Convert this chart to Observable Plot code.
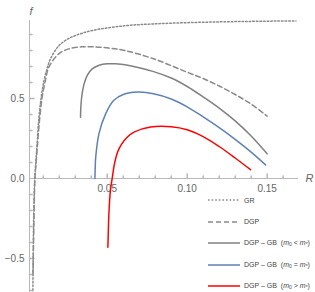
<!DOCTYPE html>
<html>
<head>
<meta charset="utf-8">
<script src="https://cdn.jsdelivr.net/npm/d3@7"></script>
<script src="https://cdn.jsdelivr.net/npm/@observablehq/plot@0.6"></script>
<style>
  html, body { margin: 0; padding: 0; background: #fff; }
  #wrap { position: relative; width: 315px; height: 292px; font-family: "Liberation Sans", Arial, sans-serif; }
  #legend { position: absolute; left: 208px; top: 190px; }
  .item { position: absolute; left: 0; height: 10px; display: flex; align-items: center; white-space: nowrap; font-size: 7px; color: #444; }
  .item svg { margin-right: 4px; }
  .item sub { font-size: 5px; vertical-align: -1px; }
</style>
</head>
<body>
<div id="wrap"></div>
<script>
// ---- data ----
const grR  = [0.0035, 0.0037, 0.0040, 0.0047, 0.0055, 0.0063, 0.0073, 0.0085, 0.0104, 0.0125, 0.0146, 0.0198, 0.0250, 0.0302, 0.0406, 0.0614, 0.0790, 0.1000, 0.1210, 0.1400, 0.1560, 0.1680];
const grF  = [-0.72, -0.50, -0.25, 0.00, 0.12, 0.24, 0.38, 0.49, 0.61, 0.69, 0.75, 0.83, 0.87, 0.894, 0.925, 0.955, 0.966, 0.974, 0.979, 0.982, 0.984, 0.985];

const dgpR = [0.0036, 0.0041, 0.0048, 0.0057, 0.0067, 0.0080, 0.0095, 0.0115, 0.0135, 0.0198, 0.0260, 0.0340, 0.0410, 0.0510, 0.0610, 0.0790, 0.1000, 0.1100, 0.1200, 0.1300, 0.1400, 0.1500];
const dgpF = [-0.60, -0.30, 0.00, 0.12, 0.25, 0.40, 0.52, 0.62, 0.696, 0.78, 0.81, 0.823, 0.823, 0.815, 0.80, 0.748, 0.664, 0.625, 0.578, 0.525, 0.465, 0.39];

const lessR = [0.0333, 0.0336, 0.0343, 0.0355, 0.0375, 0.0406, 0.0450, 0.0500, 0.0550, 0.0620, 0.0790, 0.0900, 0.1000, 0.1100, 0.1200, 0.1300, 0.1400, 0.1500];
const lessF = [0.383, 0.46, 0.53, 0.59, 0.645, 0.685, 0.708, 0.717, 0.717, 0.71, 0.668, 0.628, 0.575, 0.51, 0.44, 0.36, 0.265, 0.154];

const eqR = [0.0423, 0.0425, 0.0428, 0.0448, 0.0490, 0.0540, 0.0600, 0.0690, 0.0790, 0.0900, 0.1000, 0.1100, 0.1200, 0.1300, 0.1400, 0.1490];
const eqF = [0.00, 0.07, 0.133, 0.279, 0.404, 0.4875, 0.525, 0.54, 0.53, 0.497, 0.448, 0.385, 0.318, 0.245, 0.165, 0.085];

const moreR = [0.0504, 0.0507, 0.0510, 0.0520, 0.0531, 0.0545, 0.0565, 0.0590, 0.0625, 0.0667, 0.0770, 0.0900, 0.1000, 0.1100, 0.1200, 0.1300, 0.1396];
const moreF = [-0.43, -0.33, -0.23, -0.075, 0.00, 0.09, 0.165, 0.215, 0.258, 0.29, 0.322, 0.324, 0.305, 0.262, 0.20, 0.128, 0.055];

const xDomain = [0.0014, 0.1696];
const yDomain = [-0.7125, 0.9875];
const xMinorTicks = [0.01, 0.02, 0.03, 0.04, 0.06, 0.07, 0.08, 0.09, 0.11, 0.12, 0.13, 0.14, 0.16];
const xMajorTicks = [0.05, 0.10, 0.15];
const xTickLabels = ["0.05", "0.10", "0.15"];
const yMinorTicks = [-0.7, -0.6, -0.4, -0.3, -0.2, -0.1, 0.1, 0.2, 0.3, 0.4, 0.6, 0.7, 0.8, 0.9];
const yMajorTicks = [-0.5, 0.5];
const yLabelValues = [-0.5, 0.0, 0.5];
const yTickLabels = ["\u22120.5", "0.0", "0.5"];

const toRows = (R, F) => R.map((r, i) => ({R: r, f: F[i]}));
const gr = toRows(grR, grF), dgp = toRows(dgpR, dgpF), less = toRows(lessR, lessF), eq = toRows(eqR, eqF), more = toRows(moreR, moreF);

const axisColor = "#b8b8b8";
const labelColor = "#666";
const tickShape = {draw(context, l) { context.moveTo(0, 0); context.lineTo(0, -l); }};

const chart = Plot.plot({
  width: 315, height: 292,
  marginLeft: 29, marginRight: 17, marginTop: 20, marginBottom: 0,
  x: {domain: xDomain, axis: null},
  y: {domain: yDomain, axis: null},
  style: {fontFamily: "Liberation Sans, Arial, sans-serif", background: "white"},
  marks: [
    Plot.ruleY([0], {stroke: axisColor, strokeWidth: 1}),
    Plot.ruleX([xDomain[0]], {stroke: axisColor, strokeWidth: 1}),
    Plot.vector(xMinorTicks, {x: d => d, y: () => 0, length: 2.5, rotate: 0, anchor: "start", shape: tickShape, stroke: axisColor}),
    Plot.vector(xMajorTicks, {x: d => d, y: () => 0, length: 4.5, rotate: 0, anchor: "start", shape: tickShape, stroke: axisColor}),
    Plot.vector(yMinorTicks, {frameAnchor: "left", y: d => d, length: 2.5, rotate: 90, anchor: "start", shape: tickShape, stroke: axisColor}),
    Plot.vector(yMajorTicks, {frameAnchor: "left", y: d => d, length: 4.5, rotate: 90, anchor: "start", shape: tickShape, stroke: axisColor}),
    Plot.text(yLabelValues, {frameAnchor: "left", y: d => d, text: (d, i) => yTickLabels[i], dx: -5, textAnchor: "end", fill: labelColor, fontSize: 10}),
    Plot.text(xMajorTicks, {x: d => d, y: () => 0, text: (d, i) => xTickLabels[i], dy: 10, fill: labelColor, fontSize: 10}),
    Plot.text(["f"], {frameAnchor: "top-left", dy: -13, dx: 0, fill: labelColor, fontSize: 11, fontStyle: "italic"}),
    Plot.text(["R"], {x: () => xDomain[1], y: () => 0, dx: 11, fill: labelColor, fontSize: 11, fontStyle: "italic"}),
    Plot.line(gr, {x: "R", y: "f", stroke: "#8a8a8a", strokeWidth: 1.5, strokeDasharray: "1.6,2", curve: "catmull-rom", clip: true}),
    Plot.line(dgp, {x: "R", y: "f", stroke: "#8a8a8a", strokeWidth: 1.5, strokeDasharray: "5,3", curve: "catmull-rom", clip: true}),
    Plot.line(less, {x: "R", y: "f", stroke: "#808080", strokeWidth: 1.5, curve: "catmull-rom", clip: true}),
    Plot.line(eq, {x: "R", y: "f", stroke: "#5e81b5", strokeWidth: 1.5, curve: "catmull-rom", clip: true}),
    Plot.line(more, {x: "R", y: "f", stroke: "#ff0000", strokeWidth: 1.5, curve: "catmull-rom", clip: true})
  ]
});
const wrap = document.getElementById("wrap");
wrap.appendChild(chart);

// ---- legend ----
const legendLabels = [
  "GR",
  "DGP",
  "DGP \u2013 GB &nbsp;(<i>m</i><sub>0</sub> &lt; <i>m</i><sub>*</sub>)",
  "DGP \u2013 GB &nbsp;(<i>m</i><sub>0</sub> = <i>m</i><sub>*</sub>)",
  "DGP \u2013 GB &nbsp;(<i>m</i><sub>0</sub> &gt; <i>m</i><sub>*</sub>)"
];
const legendColors = ["#8a8a8a", "#8a8a8a", "#808080", "#5e81b5", "#ff0000"];
const legendDash = ["1.6,2", "5,3", "none", "none", "none"];
const legend = document.createElement("div");
legend.id = "legend";
legendLabels.forEach((lab, i) => {
  const it = document.createElement("div");
  it.className = "item";
  it.style.top = (5 + i * 21.6) + "px";
  it.innerHTML = `<svg width="32" height="4"><line x1="0" y1="2" x2="32" y2="2" stroke="${legendColors[i]}" stroke-width="1.5" stroke-dasharray="${legendDash[i]}"/></svg><span>${lab}</span>`;
  legend.appendChild(it);
});
wrap.appendChild(legend);
</script>
</body>
</html>
